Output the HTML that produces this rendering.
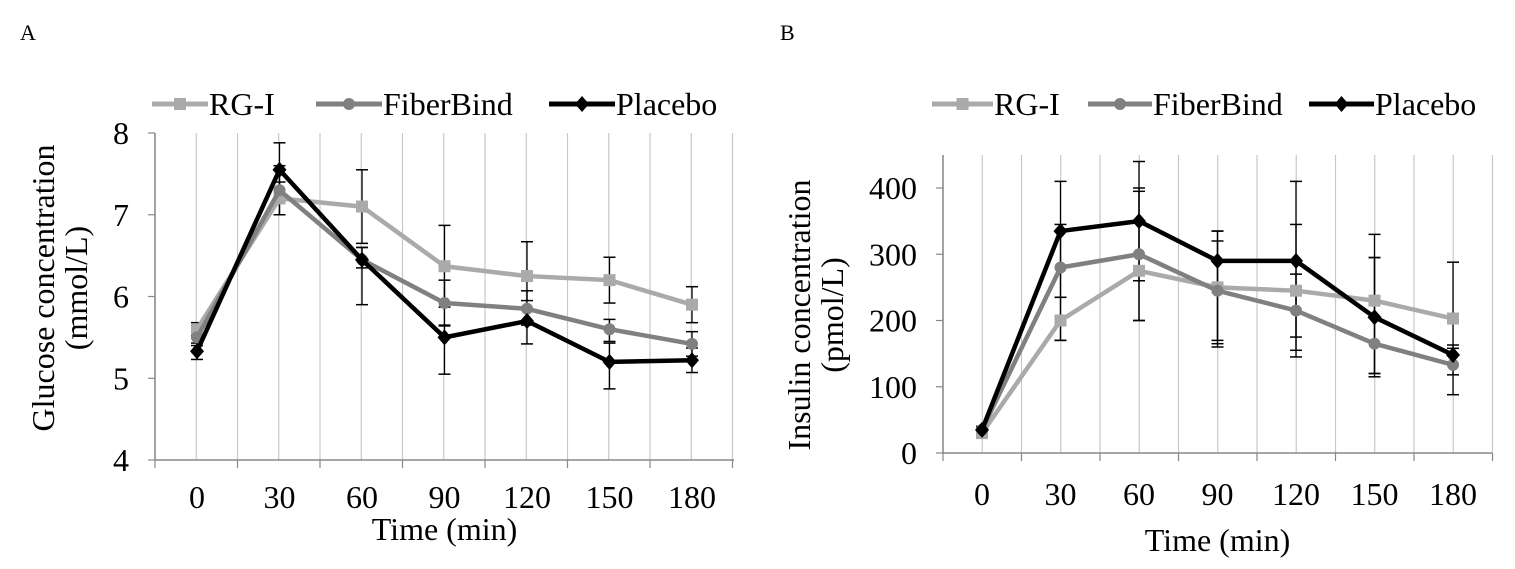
<!DOCTYPE html>
<html><head><meta charset="utf-8"><style>
html,body{margin:0;padding:0;background:#fff;}
svg{display:block;font-family:"Liberation Serif",serif;}
</style></head><body>
<svg id="s" width="1515" height="569" viewBox="0 0 1515 569" xmlns="http://www.w3.org/2000/svg">
<text x="20" y="40" font-size="22">A</text>
<text x="780" y="40" font-size="22">B</text>
</svg>
<script>
const S=document.getElementById('s');const NS='http://www.w3.org/2000/svg';
function el(t,a,txt){const e=document.createElementNS(NS,t);for(const k in a)e.setAttribute(k,a[k]);if(txt!==undefined)e.textContent=txt;S.appendChild(e);return e;}
const cols=['#aaaaaa','#808080','#000000'];
const FS=32;
function chart(o){
  const {x0,dx,axL,axR,yTop,y0,ymin,ymax,ticks,data,err,ylab,xlabY,ylabX}=o;
  const yTop2=o.yMaxPix;
  const Y=v=>y0-(v-ymin)/(ymax-ymin)*(y0-yTop2);
  const n=7;
  for(let i=0;i<=2*n;i++){const x=axL+i*dx/2;el('line',{x1:x,y1:yTop,x2:x,y2:y0,stroke:'#c8c8c8','stroke-width':1.2});
    if(i%2==0)el('line',{x1:x,y1:y0,x2:x,y2:y0+8,stroke:'#888','stroke-width':1.2});}
  el('line',{x1:axL,y1:yTop,x2:axL,y2:y0,stroke:'#888','stroke-width':1.5});
  el('line',{x1:axL,y1:y0,x2:axR,y2:y0,stroke:'#888','stroke-width':1.5});
  for(const t of ticks){const y=Y(t);el('line',{x1:axL-7,y1:y,x2:axL,y2:y,stroke:'#888','stroke-width':1.2});
    el('text',{x:axL-26,y:y+11,'font-size':FS,'text-anchor':'end'},t);}
  const lab=[0,30,60,90,120,150,180];
  lab.forEach((l,i)=>el('text',{x:x0+i*dx,y:o.tickY,'font-size':FS,'text-anchor':'middle'},l));
  el('text',{x:(axL+axR)/2,y:xlabY,'font-size':FS,'text-anchor':'middle'},'Time (min)');
  const g=el('text',{x:0,y:0,'font-size':FS,'text-anchor':'middle',transform:`translate(${ylabX},${(o.yTitleC)}) rotate(-90)`});
  const t1=document.createElementNS(NS,'tspan');t1.setAttribute('x',0);t1.setAttribute('dy',0);t1.textContent=ylab[0];g.appendChild(t1);
  const t2=document.createElementNS(NS,'tspan');t2.setAttribute('x',0);t2.setAttribute('dy',33);t2.textContent=ylab[1];g.appendChild(t2);
  err.forEach((s,k)=>s.forEach((e,i)=>{const x=x0+i*dx;const v=data[k][i];
    el('line',{x1:x,y1:Y(v+e[0]),x2:x,y2:Y(v-e[1]),stroke:'#000','stroke-width':1.3});
    [v+e[0],v-e[1]].forEach(w=>el('line',{x1:x-6,y1:Y(w),x2:x+6,y2:Y(w),stroke:'#000','stroke-width':1.5}));}));
  data.forEach((d,k)=>{
    el('polyline',{points:d.map((v,i)=>`${x0+i*dx},${Y(v)}`).join(' '),fill:'none',stroke:cols[k],'stroke-width':4.5,'stroke-linejoin':'round'});
    d.forEach((v,i)=>mark(k,x0+i*dx,Y(v)));
  });
  o.leg.forEach((L,k)=>{el('line',{x1:L[0],y1:o.legY,x2:L[1],y2:o.legY,stroke:cols[k],'stroke-width':5});
    mark(k,(L[0]+L[1])/2,o.legY);
    el('text',{x:L[1]+1,y:o.legY+11,'font-size':FS},['RG-I','FiberBind','Placebo'][k]);});
}
function mark(k,x,y){
  if(k==0)el('rect',{x:x-6,y:y-6,width:12,height:12,fill:cols[0]});
  else if(k==1)el('circle',{cx:x,cy:y,r:6,fill:cols[1]});
  else el('polygon',{points:`${x},${y-8} ${x+7},${y} ${x},${y+8} ${x-7},${y}`,fill:'#000'});
}
chart({x0:197,dx:82.5,axL:155,axR:734,yTop:133,y0:460,yMaxPix:133,ymin:4,ymax:8,ticks:[4,5,6,7,8],
 data:[[5.6,7.2,7.1,6.37,6.25,6.2,5.9],[5.5,7.3,6.45,5.92,5.85,5.6,5.42],[5.33,7.55,6.45,5.5,5.7,5.2,5.22]],
 err:[[[0.08,0.08],[0.2,0.2],[0.45,0.45],[0.5,0.5],[0.42,0.3],[0.28,0.28],[0.22,0.22]],
      [[0.1,0.1],[0.3,0.3],[0.15,0.1],[0.28,0.28],[0.22,0.2],[0.12,0.15],[0.15,0.15]],
      [[0.1,0.1],[0.33,0.3],[0.15,0.55],[0.15,0.45],[0.15,0.28],[0.23,0.33],[0.15,0.15]]],
 ylab:['Glucose concentration','(mmol/L)'],ylabX:54,yTitleC:288,tickY:508,xlabY:540,legY:104,
 leg:[[152,208],[316,382],[549,615]]});
chart({x0:982,dx:78.5,axL:943,axR:1492,yTop:155,y0:453,yMaxPix:188,ymin:0,ymax:400,ticks:[0,100,200,300,400],
 data:[[30,200,275,250,245,230,203],[35,280,300,245,215,165,133],[35,335,350,290,290,205,148]],
 err:[[[5,5],[35,30],[120,75],[85,85],[100,70],[65,110],[85,45]],
      [[5,5],[65,45],[100,40],[75,75],[55,60],[130,45],[15,15]],
      [[5,5],[75,165],[90,150],[45,130],[120,145],[125,90],[15,60]]],
 ylab:['Insulin concentration','(pmol/L)'],ylabX:810,yTitleC:315,tickY:505,xlabY:551,legY:104,
 leg:[[932,993],[1088,1152],[1309,1374]]});
</script>
</body></html>
